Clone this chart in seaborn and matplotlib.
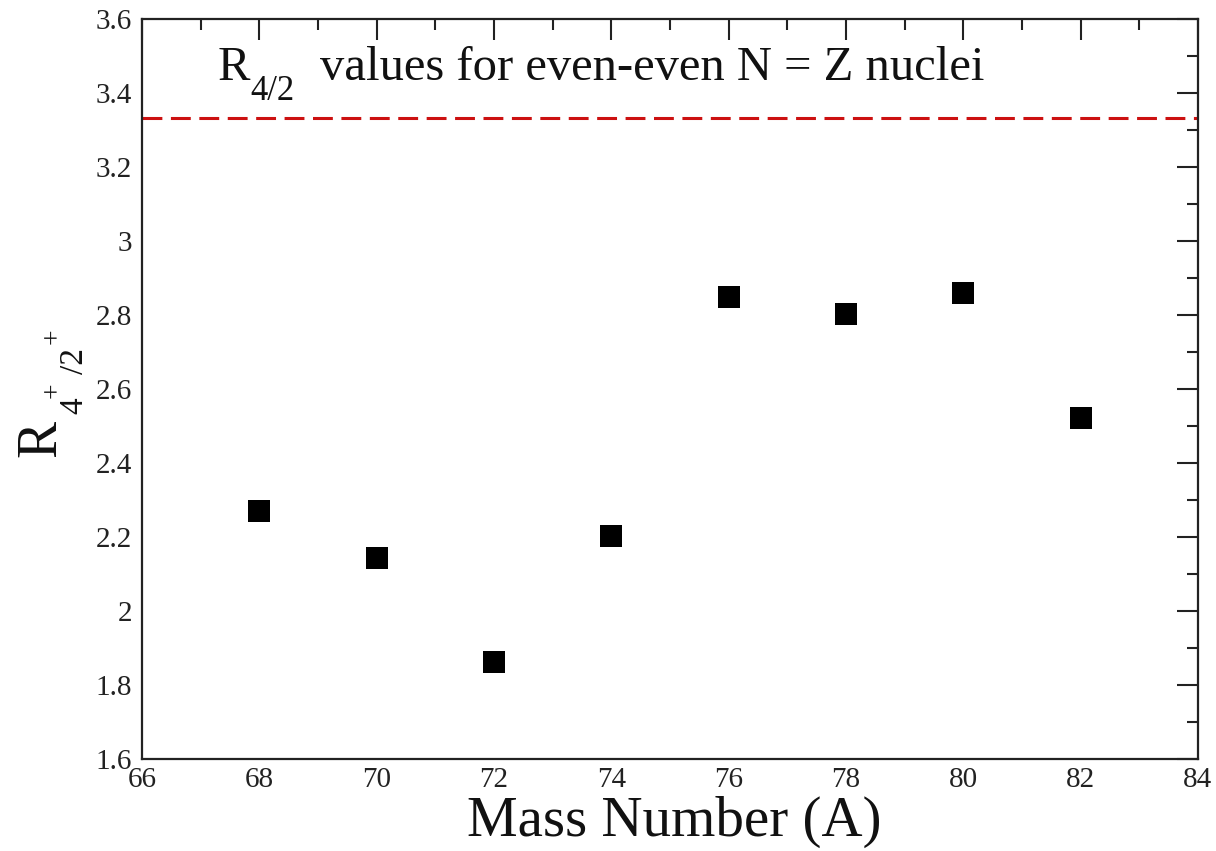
import matplotlib
matplotlib.use("Agg")
import matplotlib.pyplot as plt
import seaborn as sns
import pandas as pd
from matplotlib.ticker import MultipleLocator, FuncFormatter

mass_number = [68, 70, 72, 74, 76, 78, 80, 82]
r42_values = [2.27, 2.143, 1.862, 2.203, 2.849, 2.803, 2.859, 2.522]
rigid_rotor_limit = 10.0 / 3.0

df = pd.DataFrame({"A": mass_number, "R": r42_values})

sns.set_theme(style="white")
plt.rcParams['font.family'] = ['Liberation Serif', 'DejaVu Serif']

W, H = 1216, 851
fig = plt.figure(figsize=(W / 100, H / 100), dpi=100)
ax = fig.add_axes([142 / W, (H - 759) / H, 1056 / W, 740 / H])

ax.axhline(rigid_rotor_limit, color='#cc1111', lw=2.2, dashes=(6.5, 2.8), zorder=1)
sns.scatterplot(data=df, x="A", y="R", marker='s', s=240, color='black',
                edgecolor='black', linewidth=0, ax=ax, zorder=3, legend=False)

ax.set_xlim(66, 84)
ax.set_ylim(1.6, 3.6)
ax.xaxis.set_major_locator(MultipleLocator(2))
ax.xaxis.set_minor_locator(MultipleLocator(1))
ax.yaxis.set_major_locator(MultipleLocator(0.2))
ax.yaxis.set_minor_locator(MultipleLocator(0.1))

def yfmt(v, pos):
    if abs(v - round(v)) < 1e-9:
        return f"{int(round(v))}"
    return f"{v:.1f}"
ax.yaxis.set_major_formatter(FuncFormatter(yfmt))

ax.tick_params(which='both', direction='in', top=True, right=True, colors='#222222',
               labelsize=21, labelcolor='#222222')
ax.tick_params(which='major', length=15, width=1.5)
ax.tick_params(which='minor', length=8, width=1.5)
ax.tick_params(axis='x', which='major', pad=6)
ax.tick_params(axis='y', which='major', pad=7)
for sp in ax.spines.values():
    sp.set_linewidth(1.6)
    sp.set_color('#222222')

ax.set_xlabel("Mass Number (A)", fontsize=41, color='#111111')
ax.xaxis.label.set_va('baseline')
ax.xaxis.set_label_coords(0.504, (759 - 836) / 740)
ax.set_ylabel("")

def px(x, y):
    return x / W, 1 - y / H

# y-axis label R_{4+/2+}, xmgrace style pieces (rotated)
ylab_parts = [("R", 55, 438, 40), ("4", 82, 406, 24), ("+", 60, 390, 20),
              ("/2", 83, 361, 24), ("+", 60, 336, 20)]
for txt, bx, cy, fs in ylab_parts:
    fig.text(*px(bx, cy), txt, rotation=90, rotation_mode='anchor',
             ha='center', va='baseline', fontsize=fs, color='#111111')

# title inside the plot
title_parts = [("R", 218, 80, 35), ("4/2", 250, 100, 25),
               ("values for even-even N = Z nuclei", 320, 80, 35)]
for txt, lx, by, fs in title_parts:
    fig.text(*px(lx, by), txt, ha='left', va='baseline', fontsize=fs, color='#111111')

fig.savefig("out.png", dpi=100, facecolor='white')
